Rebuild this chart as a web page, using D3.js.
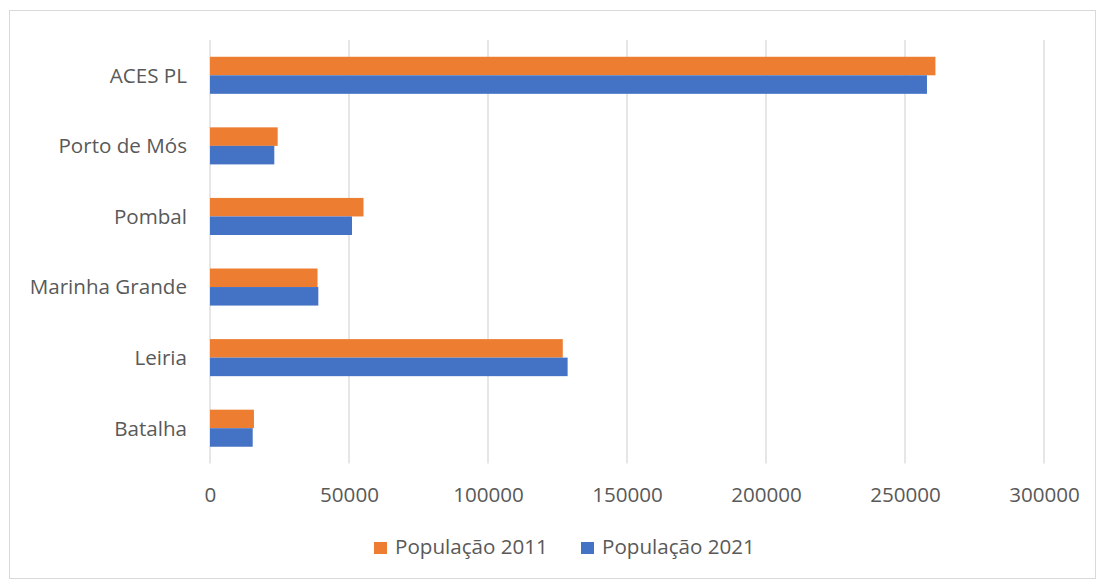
<!DOCTYPE html>
<html><head><meta charset="utf-8">
<script src="https://cdn.jsdelivr.net/npm/d3@7"></script>
<style>body{margin:0;background:#fff;}svg{display:block;font-family:"Open Sans",Lato,sans-serif;}</style>
</head><body>
<svg id="c" width="1097" height="580"></svg>
<script>
const categories = ["ACES PL","Porto de Mós","Pombal","Marinha Grande","Leiria","Batalha"];
const pop2011 = [260942,24342,55217,38681,126897,15805];
const pop2021 = [257900,23130,51080,38960,128640,15360];
const seriesNames = ["População 2011","População 2021"];
const seriesColors = ["#ED7D31","#4472C4"];
const xTicks = [0,50000,100000,150000,200000,250000,300000];

const FONT = "'Open Sans',Lato,sans-serif";
const FS = "20.6px";
const svg = d3.select("#c");
svg.append("rect").attr("x",9.5).attr("y",10.5).attr("width",1086).attr("height",568)
  .attr("fill","#fff").attr("stroke","#d9d9d9").attr("stroke-width",1);

const pL=210, pR=1044, pT=40, pB=463.5;
const x = d3.scaleLinear().domain([0,300000]).range([pL,pR]);
const y = d3.scaleBand().domain(categories).range([pT,pB]).paddingInner(0.475).paddingOuter(0.2375);
const ys = d3.scaleBand().domain([0,1]).range([0,y.bandwidth()]);

// gridlines
svg.append("g").selectAll("line").data(xTicks).join("line")
  .attr("x1",d=>x(d)).attr("x2",d=>x(d)).attr("y1",pT).attr("y2",pB)
  .attr("stroke","#d9d9d9").attr("stroke-width",1.3);

const data = categories.map((c,i)=>({c, v:[pop2011[i],pop2021[i]]}));
const g = svg.append("g");
data.forEach(d=>{
  d.v.forEach((v,j)=>{
    g.append("rect").attr("x",x(0)).attr("y",y(d.c)+ys(j))
      .attr("width",x(v)-x(0)).attr("height",ys.bandwidth())
      .attr("fill",seriesColors[j]);
  });
});

// x axis labels
const xa = d3.axisBottom(x).tickValues(xTicks).tickFormat(d3.format("d")).tickSize(0).tickPadding(0);
const xg = svg.append("g").attr("transform",`translate(0,${pB})`).call(xa);
xg.select(".domain").remove();
xg.selectAll("text").attr("dy",0).attr("y",38.5).attr("fill","#595959")
  .style("font-size",FS).style("font-family",FONT);

// y axis labels
const ya = d3.axisLeft(y).tickSize(0).tickPadding(0);
const yg = svg.append("g").attr("transform",`translate(187,0)`).call(ya);
yg.select(".domain").remove();
yg.selectAll("text").attr("fill","#595959").attr("dy","0.36em")
  .style("font-size",FS).style("font-family",FONT);

// legend
const legX = [374,581];
seriesNames.forEach((n,i)=>{
  svg.append("rect").attr("x",legX[i]).attr("y",542).attr("width",13).attr("height",12).attr("fill",seriesColors[i]);
  svg.append("text").attr("x",legX[i]+21).attr("y",554).text(n).attr("fill","#595959")
    .style("font-size",FS).style("font-family",FONT);
});
</script>
</body></html>
